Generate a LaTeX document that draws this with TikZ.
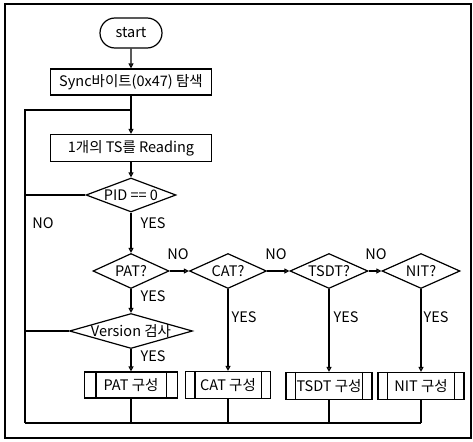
\documentclass[tikz,border=0pt]{standalone}
\usepackage{fontspec}
\setmainfont{Noto Sans CJK KR}
\usetikzlibrary{shapes.geometric,shapes.misc,arrows.meta}
\begin{document}
\begin{tikzpicture}[x=1pt,y=-1pt,
  every node/.style={font=\fontsize{14.5}{16}\selectfont, inner sep=0pt},
  ln/.style={line width=1.2pt},
  arr/.style={ln,-{Triangle[open,length=5pt,width=5pt]}},
  term/.style={draw,ln,rounded rectangle,minimum width=62pt,minimum height=30pt},
  proc/.style={draw,ln,rectangle,minimum height=26pt},
  dec/.style={draw,ln,diamond,inner sep=0pt,minimum height=35pt},
  lbl/.style={font=\fontsize{14.5}{16}\selectfont}
]
\useasboundingbox (0,0) rectangle (473,441);
\draw[line width=1.3pt] (5,4) rectangle (471,438);

\node[term] (start) at (131,33) {start};
\node[proc,minimum width=161pt] (sync) at (131,82) {Sync바이트(0x47) 탐색};
\node[proc,minimum width=161pt,minimum height=27pt] (read) at (131,148) {1개의 TS를 Reading};

\node[dec,minimum width=90pt,minimum height=34pt,label=center:{PID == 0}] (pid) at (131,195) {};
\node[dec,minimum width=76pt,label=center:{PAT?}] (pat) at (131,271) {};
\node[dec,minimum width=77pt,label=center:{CAT?}] (cat) at (228,271) {};
\node[dec,minimum width=78pt,label=center:{TSDT?}] (tsdt) at (329,271) {};
\node[dec,minimum width=78pt,label=center:{NIT?}] (nit) at (421,271) {};
\node[dec,minimum width=123pt,label=center:{Version 검사}] (ver) at (131,331) {};

\node[proc,minimum width=93pt] (patb) at (131,385) {PAT 구성};
\node[proc,minimum width=85pt,minimum height=27pt] (catb) at (228,385) {CAT 구성};
\node[proc,minimum width=86pt,minimum height=27pt] (tsdtb) at (329,386) {TSDT 구성};
\node[proc,minimum width=86pt,minimum height=27pt] (nitb) at (421,386) {NIT 구성};

\foreach \b/\d in {patb/12, catb/10, tsdtb/10, nitb/10}{
  \draw[ln] ([xshift=\d pt]\b.north west) -- ([xshift=\d pt]\b.south west);
  \draw[ln] ([xshift=-\d pt]\b.north east) -- ([xshift=-\d pt]\b.south east);
}

\coordinate (J) at (131,110);
\coordinate (LT) at (25,110);
\coordinate (LB) at (25,423);

\draw[arr] (start) -- (sync);
\draw[ln] (sync) -- (J);
\draw[arr] (J) -- (read);
\draw[ln] (LB) -- (LT) -- (J);
\draw[arr] (read) -- (pid);
\draw[ln] (pid.west) -- (pid.west -| LT);
\draw[arr] (pid) -- (pat);
\draw[arr] (pat) -- (ver);
\draw[ln] (ver.west) -- (ver.west -| LT);
\draw[arr] (ver) -- (patb);
\draw[arr] (pat.east) -- (cat.west);
\draw[arr] (cat.east) -- (tsdt.west);
\draw[arr] (tsdt.east) -- (nit.west);
\draw[arr] (cat) -- (catb);
\draw[arr] (tsdt) -- (tsdtb);
\draw[arr] (nit) -- (nitb);
\draw[ln] (LB) -- (LB -| nitb.south);
\foreach \b in {patb,catb,tsdtb,nitb}{
  \draw[ln] (\b.south) -- (\b.south |- LB);
}

\node[lbl] (l1) at (43,223) {NO};
\node[lbl] (l2) at (153,223) {YES};
\node[lbl] (l3) at (178,254) {NO};
\node[lbl] (l4) at (153,296) {YES};
\node[lbl] (l5) at (153,356) {YES};
\node[lbl] (l6) at (244,317) {YES};
\node[lbl] (l7) at (276,254) {NO};
\node[lbl] (l8) at (346,317) {YES};
\node[lbl] (l9) at (376,254) {NO};
\node[lbl] (l10) at (436,317) {YES};
\end{tikzpicture}
\end{document}
